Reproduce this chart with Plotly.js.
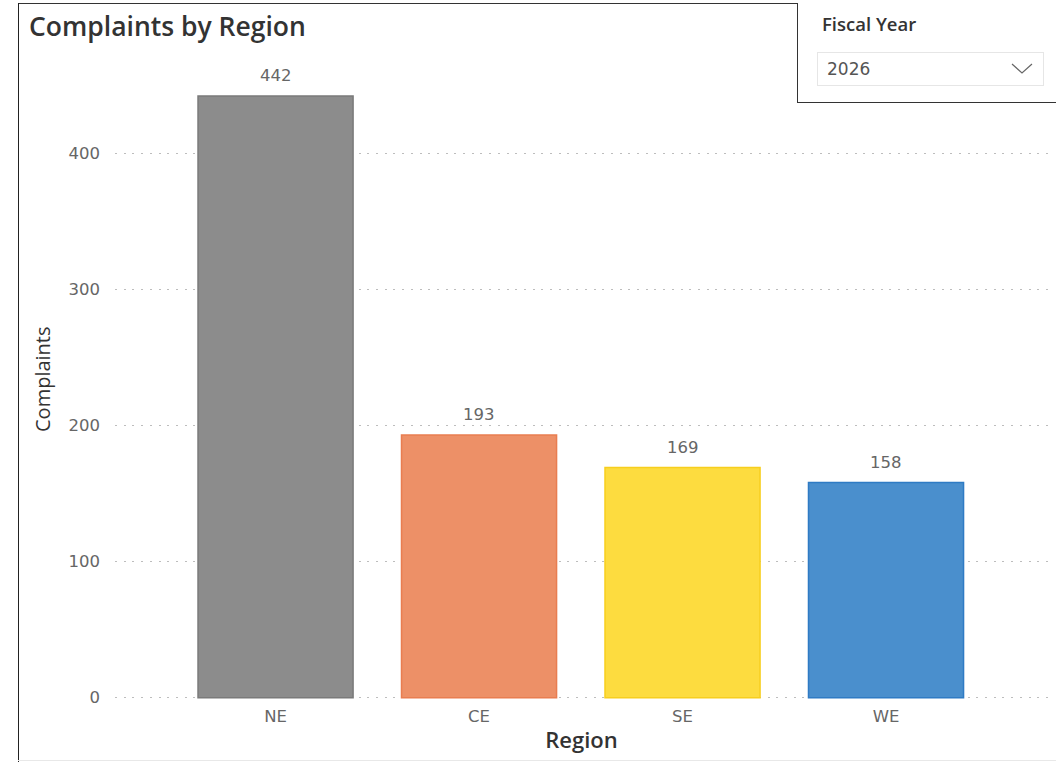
<!DOCTYPE html>
<html>
<head>
<meta charset="utf-8">
<script src="https://cdn.plot.ly/plotly-3.0.1.min.js"></script>
<style>
  html, body { margin: 0; padding: 0; background: #ffffff; }
  #wrap { position: relative; width: 1056px; height: 762px; overflow: hidden; background: #fff; }
  #chart { position: absolute; left: 0; top: 0; width: 1056px; height: 762px; }
  #frameTop { position: absolute; left: 18px; top: 3px; width: 1038px; height: 1px; background: #333; }
  #frameLeft { position: absolute; left: 18px; top: 3px; width: 1px; height: 759px; background: #222; }
  #frameBottom { position: absolute; left: 18px; top: 760px; width: 1038px; height: 1px; background: #e8e8e8; }
  #slicer { position: absolute; left: 797px; top: 3px; width: 259px; height: 100px; border-left: 1px solid #333; border-bottom: 1px solid #333; background: #fff; box-sizing: border-box; }
  #slicerTitle { position: absolute; left: 24px; top: 8px; font-family: "Open Sans", "Noto Sans", sans-serif; font-weight: 600; font-size: 18.5px; color: #333; }
  #slicerBox { position: absolute; left: 19px; top: 49px; width: 227px; height: 34px; border: 1px solid #e6e6e6; box-sizing: border-box; }
  #slicerVal { position: absolute; left: 9px; top: 6px; font-family: "DejaVu Sans", sans-serif; font-size: 17px; color: #555; }
  #chev { position: absolute; right: 10px; top: 10px; }
</style>
</head>
<body>
<div id="wrap">
  <div id="chart"></div>
  <div id="frameTop"></div>
  <div id="frameLeft"></div>
  <div id="frameBottom"></div>
  <div id="slicer">
    <div id="slicerTitle">Fiscal Year</div>
    <div id="slicerBox">
      <div id="slicerVal">2026</div>
      <svg id="chev" width="22" height="12" viewBox="0 0 22 12"><polyline points="1,1 11,10 21,1" fill="none" stroke="#666" stroke-width="1.2"/></svg>
    </div>
  </div>
</div>
<script>
const regions = ["NE", "CE", "SE", "WE"];
const complaints = [442, 193, 169, 158];
const fillColors = ["#8C8C8C", "#ED9067", "#FDDC3F", "#4A8FCD"];
const lineColors = ["#7A7A7A", "#E97D50", "#F7CE1E", "#2F7BC4"];
const yTicks = [0, 100, 200, 300, 400];

const labelFont = { family: "DejaVu Sans, sans-serif", size: 16.5, color: "#666" };

const trace = {
  type: "bar",
  x: regions,
  y: complaints,
  marker: { color: fillColors, line: { color: lineColors, width: 1.5 } },
  hoverinfo: "x+y"
};

const annotations = regions.map((r, i) => ({
  x: r, y: complaints[i], xref: "x", yref: "y",
  text: String(complaints[i]),
  showarrow: false, yanchor: "bottom", yshift: 9,
  font: labelFont
}));

// y-axis title (placed as in the reference, slightly above the plot's centre)
annotations.push({
  text: "Complaints",
  xref: "paper", yref: "paper",
  x: (42 - 115) / 933, y: (698 - 378) / 614,
  xanchor: "center", yanchor: "middle",
  textangle: -90, showarrow: false,
  font: { family: "Open Sans, Noto Sans, sans-serif", size: 20, color: "#333" }
});

const layout = {
  width: 1056, height: 762,
  margin: { l: 115, r: 8, t: 85, b: 63 },
  paper_bgcolor: "rgba(0,0,0,0)",
  plot_bgcolor: "rgba(0,0,0,0)",
  bargap: 0.238,
  showlegend: false,
  title: {
    text: "Complaints by Region",
    xref: "container", yref: "container",
    x: 29 / 1056, xanchor: "left",
    y: 1 - 27 / 762, yanchor: "middle",
    font: { family: "Open Sans, Noto Sans, sans-serif", size: 26.5, color: "#333", weight: 600 }
  },
  xaxis: {
    type: "category",
    range: [-0.789, 3.796],
    showgrid: false, zeroline: false, showline: false, ticks: "",
    ticklabelstandoff: 5,
    tickfont: labelFont,
    title: { text: "Region", standoff: 8, font: { family: "Open Sans, Noto Sans, sans-serif", size: 22, color: "#333", weight: 600 } },
    fixedrange: true
  },
  yaxis: {
    range: [-1, 450],
    tickvals: yTicks,
    ticktext: yTicks.map(String),
    showgrid: true, gridcolor: "#BDBDBD", gridwidth: 1, griddash: "2px,6.7px",
    zeroline: false, showline: false, ticks: "",
    ticklabelstandoff: 14,
    tickfont: labelFont,
    fixedrange: true
  },
  annotations: annotations
};

Plotly.newPlot("chart", [trace], layout, { displayModeBar: false, staticPlot: true });
</script>
</body>
</html>
